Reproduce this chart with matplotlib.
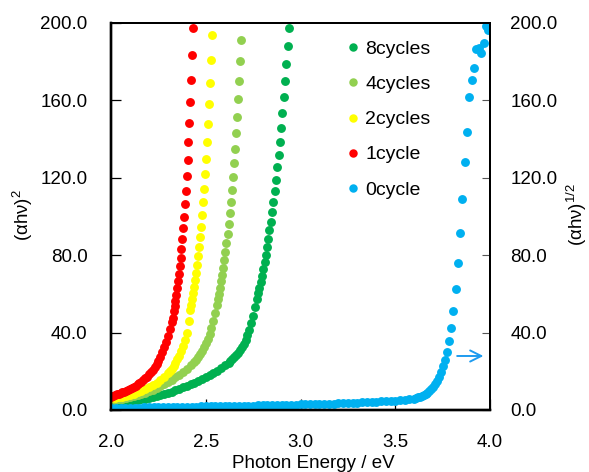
import matplotlib
matplotlib.use('Agg')
import matplotlib.pyplot as plt
from matplotlib.ticker import FormatStrFormatter

plt.rcParams['font.family'] = ['Liberation Sans', 'DejaVu Sans']
plt.rcParams['mathtext.fontset'] = 'custom'
plt.rcParams['mathtext.rm'] = 'Liberation Sans'
plt.rcParams['mathtext.it'] = 'Liberation Sans:italic'

# ---------- data: photon energy (eV) and (ahv)^2 or (ahv)^1/2 ----------
# 8cycles
e8 = [2.00, 2.02, 2.04, 2.06, 2.08, 2.10, 2.12, 2.14, 2.16, 2.18, 2.20, 2.22, 2.24, 2.26,
      2.28, 2.30, 2.32, 2.34, 2.36, 2.38, 2.40, 2.42, 2.44, 2.46, 2.48, 2.50, 2.52, 2.54,
      2.56, 2.58, 2.60, 2.62, 2.63, 2.64, 2.65, 2.66, 2.67, 2.68, 2.69, 2.70, 2.71, 2.72,
      2.73, 2.74, 2.75, 2.76, 2.770, 2.776, 2.783, 2.790, 2.796, 2.803, 2.810, 2.816,
      2.823, 2.830, 2.836, 2.843, 2.850, 2.857, 2.864, 2.870, 2.877, 2.884, 2.891, 2.898,
      2.904, 2.911, 2.918, 2.925, 2.932, 2.938]
v8 = [3.4, 3.6, 3.8, 4.1, 4.3, 4.6, 4.9, 5.2, 5.5, 5.9, 6.3, 6.7, 7.2, 7.7,
      8.2, 8.8, 9.5, 10.2, 10.9, 11.7, 12.5, 13.3, 14.2, 15.1, 16.0, 17.0, 18.0, 19.1,
      20.3, 21.6, 23.0, 24.5, 25.4, 26.3, 27.3, 28.4, 29.6, 30.9, 32.4, 34.1, 36.2, 38.6,
      41.5, 44.8, 48.7, 53.0, 57.4, 60.2, 63.1, 66.2, 69.4, 72.8, 76.4, 80.2,
      84.2, 88.4, 92.8, 97.4, 102.3, 107.7, 113.2, 119.0, 125.4, 131.6, 138.5, 145.9,
      153.5, 161.6, 170.0, 178.8, 187.9, 197.6]

# 4cycles
e4 = [2.00, 2.02, 2.04, 2.06, 2.08, 2.10, 2.12, 2.14, 2.16, 2.18, 2.20, 2.22, 2.24, 2.26,
      2.28, 2.30, 2.32, 2.34, 2.36, 2.38, 2.40, 2.42, 2.44, 2.45, 2.46, 2.47, 2.48, 2.49,
      2.50, 2.51, 2.52, 2.53, 2.54, 2.55, 2.559, 2.564, 2.570, 2.576, 2.581, 2.587, 2.592,
      2.598, 2.604, 2.609, 2.615, 2.620, 2.626, 2.632, 2.637, 2.642, 2.649, 2.654, 2.661,
      2.667, 2.672, 2.677, 2.683, 2.688]
v4 = [5.2, 5.4, 5.6, 5.9, 6.2, 6.6, 7.1, 7.6, 8.2, 8.9, 9.6, 10.4, 11.3, 12.3,
      13.3, 14.4, 15.5, 16.8, 18.1, 19.6, 21.2, 23.0, 24.6, 25.9, 27.3, 28.8, 30.5, 32.4,
      34.5, 36.8, 39.4, 42.5, 46.0, 50.0, 54.4, 57.1, 60.0, 63.1, 66.4, 69.9, 73.6,
      77.5, 81.7, 86.2, 91.0, 96.1, 101.6, 107.5, 113.7, 120.4, 127.5, 135.1, 143.0,
      151.4, 160.5, 170.0, 180.4, 191.4]

# 2cycles
e2 = [2.00, 2.02, 2.04, 2.06, 2.08, 2.10, 2.12, 2.14, 2.16, 2.18, 2.20, 2.22, 2.24, 2.26,
      2.28, 2.30, 2.31, 2.32, 2.33, 2.34, 2.35, 2.36, 2.37, 2.38, 2.39, 2.40, 2.41,
      2.419, 2.424, 2.429, 2.434, 2.439, 2.444, 2.449, 2.454, 2.460, 2.465, 2.470, 2.475,
      2.480, 2.485, 2.490, 2.495, 2.500, 2.505, 2.511, 2.516, 2.521, 2.526, 2.531]
v2 = [6.0, 6.2, 6.5, 6.8, 7.3, 7.8, 8.4, 9.1, 9.9, 10.8, 11.8, 12.9, 14.2, 15.6,
      17.2, 19.0, 20.1, 21.3, 22.7, 24.3, 26.1, 28.1, 30.4, 33.1, 36.2, 39.8, 46.0,
      51.5, 54.2, 57.1, 60.2, 63.5, 67.1, 70.9, 75.0, 79.4, 84.2, 89.3, 94.8,
      100.8, 107.3, 114.2, 121.8, 129.9, 138.3, 147.8, 158.0, 169.0, 180.9, 193.8]

# 1cycle
e1 = [2.00, 2.01, 2.02, 2.03, 2.04, 2.05, 2.06, 2.07, 2.08, 2.09, 2.10, 2.11, 2.12, 2.13,
      2.14, 2.15, 2.16, 2.17, 2.18, 2.19, 2.20, 2.21, 2.22, 2.23, 2.24, 2.25, 2.26, 2.27,
      2.28, 2.29, 2.30, 2.31, 2.32, 2.325, 2.330, 2.335, 2.339, 2.344, 2.348, 2.353, 2.358,
      2.362, 2.367, 2.371, 2.376, 2.381, 2.385, 2.390, 2.394, 2.399, 2.404, 2.408, 2.413,
      2.417, 2.422, 2.427, 2.431]
v1 = [6.9, 7.3, 7.6, 8.0, 8.3, 8.7, 9.1, 9.5, 9.9, 10.4, 10.9, 11.4, 12.0, 12.6,
      13.2, 13.9, 14.6, 15.4, 16.3, 17.3, 18.4, 19.5, 20.8, 22.2, 23.7, 25.5, 27.5, 29.8,
      32.3, 35.1, 38.2, 41.7, 45.6, 47.7, 50.9, 53.6, 56.5, 59.6, 62.9, 66.4, 70.2,
      74.3, 78.7, 83.4, 88.5, 94.0, 99.9, 106.3, 113.3, 121.1, 129.4, 138.3, 148.2,
      159.0, 170.5, 183.5, 197.3]

# 0cycle (right axis, (ahv)^1/2)
e0 = [2.000, 2.025, 2.050, 2.075, 2.100, 2.125, 2.150, 2.175, 2.200, 2.225, 2.250, 2.275,
      2.300, 2.325, 2.350, 2.375, 2.400, 2.425, 2.450, 2.475, 2.500, 2.525, 2.550, 2.575,
      2.600, 2.625, 2.650, 2.675, 2.700, 2.725, 2.750, 2.775, 2.800, 2.825, 2.850, 2.875,
      2.900, 2.925, 2.950, 2.975, 3.000, 3.025, 3.050, 3.075, 3.100, 3.125, 3.150, 3.175,
      3.200, 3.225, 3.250, 3.275, 3.300, 3.325, 3.350, 3.375, 3.400, 3.425, 3.450, 3.475,
      3.500, 3.525, 3.550, 3.575, 3.600, 3.61, 3.62, 3.63, 3.64, 3.65, 3.66, 3.67, 3.68,
      3.69, 3.70, 3.71, 3.72, 3.73, 3.74, 3.75, 3.762, 3.773, 3.784, 3.795, 3.806, 3.818,
      3.830, 3.842, 3.854, 3.866, 3.879, 3.891, 3.903, 3.916, 3.928, 3.941, 3.953, 3.966,
      3.979, 3.991]
v0 = [1.0, 1.0, 1.1, 1.1, 1.2, 1.2, 1.2, 1.3, 1.3, 1.3, 1.4, 1.4,
      1.5, 1.5, 1.5, 1.6, 1.6, 1.7, 1.7, 1.8, 1.8, 1.9, 1.9, 2.0,
      2.0, 2.1, 2.1, 2.2, 2.2, 2.3, 2.3, 2.4, 2.4, 2.5, 2.5, 2.6,
      2.6, 2.7, 2.8, 2.8, 2.9, 2.9, 3.0, 3.1, 3.1, 3.2, 3.3, 3.3,
      3.4, 3.5, 3.6, 3.7, 3.8, 3.9, 4.0, 4.1, 4.2, 4.4, 4.5, 4.7,
      4.8, 5.0, 5.3, 5.6, 5.9, 6.2, 6.5, 6.9, 7.3, 7.8, 8.3, 8.9, 9.7,
      10.7, 11.9, 13.3, 15.0, 17.0, 19.6, 22.6, 25.8, 30.1, 35.7, 42.5, 51.3, 62.4,
      76.1, 91.5, 109.0, 128.3, 143.8, 161.6, 170.5, 176.9, 186.4, 187.0, 184.3, 189.8,
      198.4, 196.4]

yticks = [0, 40, 80, 120, 160, 200]
xticks = [2.0, 2.5, 3.0, 3.5, 4.0]

fig = plt.figure(figsize=(5.89, 4.72), dpi=100)
ax = fig.add_axes([0.1885, 0.1314, 0.6434, 0.8199])
ax2 = ax.twinx()

ms = 6.4
ax.plot(e8, v8, 'o', color='#00B050', ms=ms, mew=0, label='8cycles')
ax.plot(e4, v4, 'o', color='#92D050', ms=ms, mew=0, label='4cycles')
ax.plot(e2, v2, 'o', color='#FFFF00', ms=ms, mew=0, label='2cycles')
ax.plot(e1, v1, 'o', color='#FF0000', ms=ms, mew=0, label='1cycle')
ax2.plot(e0, v0, 'o', color='#00B0F0', ms=ms, mew=0, label='0cycle')

ax2.annotate('', xy=(3.98, 27.9), xytext=(3.812, 27.9),
             arrowprops=dict(arrowstyle='->', color='#1E9BEF', lw=1.4, mutation_scale=20))

ax.set_xlim(2.0, 4.0)
ax.set_ylim(0, 200)
ax2.set_ylim(0, 200)
ax.set_xticks(xticks)
ax.set_yticks(yticks)
ax2.set_yticks(yticks)
ax.xaxis.set_major_formatter(FormatStrFormatter('%.1f'))
ax.yaxis.set_major_formatter(FormatStrFormatter('%.1f'))
ax2.yaxis.set_major_formatter(FormatStrFormatter('%.1f'))

ax.tick_params(axis='x', direction='in', length=8, width=0.9, pad=17.5, labelsize=13.5)
ax.tick_params(axis='y', direction='in', length=7, width=0.9, pad=17, labelsize=13.5)
ax2.tick_params(axis='y', direction='in', length=6, width=0.8, color='#555555',
                pad=14.5, labelsize=13.5)

for a in (ax, ax2):
    a.spines['left'].set_linewidth(1.7)
    a.spines['bottom'].set_linewidth(1.7)
    a.spines['top'].set_linewidth(1.4)
    a.spines['right'].set_linewidth(1.4)

fig.text(23 / 589, 1 - 215 / 472, '(αhν)$^{2}$', rotation=90, ha='center', va='center',
         fontsize=13.5)
fig.text(577 / 589, 1 - 215 / 472, '(αhν)$^{1/2}$', rotation=90, ha='center', va='center',
         fontsize=13.5)
fig.text(313 / 589, 1 - 468.5 / 472, 'Photon Energy / eV', ha='center', va='baseline',
         fontsize=13.5)

h1, l1 = ax.get_legend_handles_labels()
h2, l2 = ax2.get_legend_handles_labels()
ax2.legend(h1 + h2, l1 + l2, loc='upper left', bbox_to_anchor=(0.573, 1.0), frameon=False,
           fontsize=14, labelspacing=0.9, handletextpad=0.2, handlelength=0.8,
           borderpad=0.4, markerscale=0.95)

fig.savefig('out.png', dpi=100)
